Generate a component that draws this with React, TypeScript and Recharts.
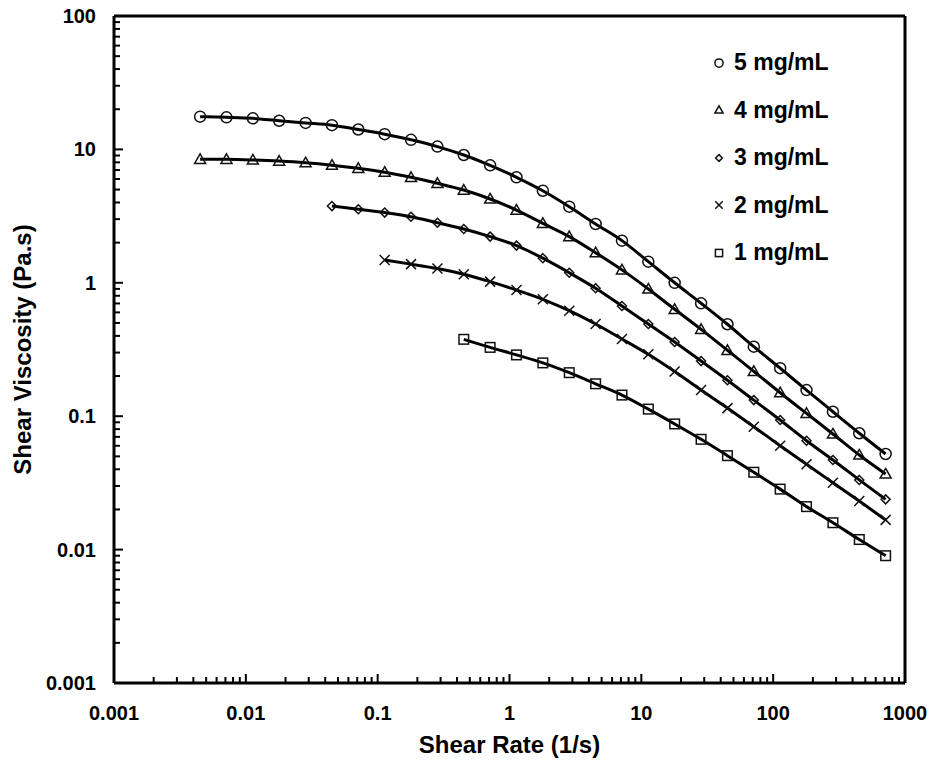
import { LineChart, Line, XAxis, YAxis, ReferenceLine, Legend } from "recharts";

document.body.style.margin = "0";

// shear rate steps (1/s), shared by all concentrations
const shearRate = [
  0.0045, 0.00713, 0.0113, 0.0179, 0.0284, 0.045, 0.0713, 0.113, 0.179, 0.284, 0.45, 0.713, 1.13, 1.79,
  2.84, 4.5, 7.13, 11.3, 17.9, 28.4, 45, 71.3, 113, 179, 284, 450, 713,
];

// viscosity (Pa.s), each series ends at the last shear rate
const visc5 = [
  17.6, 17.4, 17.1, 16.4, 15.8, 15.2, 14.1, 13.0, 11.8, 10.5, 9.08, 7.6, 6.18, 4.9, 3.72, 2.76, 2.07, 1.44,
  1.0, 0.702, 0.489, 0.332, 0.229, 0.157, 0.108, 0.0745, 0.0521,
];
const visc4 = [
  8.43, 8.42, 8.33, 8.18, 7.95, 7.62, 7.21, 6.75, 6.18, 5.57, 4.96, 4.25, 3.51, 2.79, 2.22, 1.68, 1.25,
  0.899, 0.633, 0.448, 0.312, 0.217, 0.15, 0.105, 0.0736, 0.0512, 0.0369,
];
const visc3 = [
  3.76, 3.56, 3.36, 3.13, 2.82, 2.53, 2.22, 1.9, 1.53, 1.19, 0.91, 0.67, 0.491, 0.36, 0.259, 0.186, 0.132,
  0.0937, 0.0655, 0.047, 0.0333, 0.0238,
];
const visc2 = [
  1.48, 1.38, 1.28, 1.16, 1.02, 0.883, 0.752, 0.618, 0.491, 0.379, 0.291, 0.216, 0.157, 0.115, 0.0834,
  0.0601, 0.0436, 0.0317, 0.0231, 0.0167,
];
const visc1 = [
  0.377, 0.328, 0.288, 0.251, 0.212, 0.175, 0.144, 0.113, 0.0875, 0.0671, 0.0506, 0.038, 0.0284, 0.021,
  0.0159, 0.0119, 0.009,
];

const seriesNames = ["5 mg/mL", "4 mg/mL", "3 mg/mL", "2 mg/mL", "1 mg/mL"];
const seriesShapes = ["circle", "triangle", "diamond", "cross", "square"];
const seriesValues = [visc5, visc4, visc3, visc2, visc1];

const xMajor = [0.001, 0.01, 0.1, 1, 10, 100, 1000];
const yMajor = [0.001, 0.01, 0.1, 1, 10, 100];
const minorSteps = [2, 3, 4, 5, 6, 7, 8, 9];

const withMinor = (major: number[]) => {
  const out: number[] = [];
  major.forEach((d, i) => {
    out.push(d);
    if (i < major.length - 1) minorSteps.forEach((m) => out.push(+(d * m).toPrecision(6)));
  });
  return out;
};
const xTicks = withMinor(xMajor);
const yTicks = withMinor(yMajor);

const FONT = "'Liberation Sans', Arial, sans-serif";

const seriesData = seriesValues.map((vals) => {
  const start = shearRate.length - vals.length;
  return vals.map((y, i) => ({ x: shearRate[start + i], y }));
});

function Marker({ shape, cx, cy, s = 1 }: { shape: string; cx: number; cy: number; s?: number }) {
  const st = { stroke: "#111", strokeWidth: 1.5, fill: "none" };
  if (shape === "circle") return <circle cx={cx} cy={cy} r={5.5 * s} {...st} />;
  if (shape === "triangle") {
    const h = 5.5 * s;
    return <polygon points={`${cx},${cy - h} ${cx + h},${cy + h * 0.75} ${cx - h},${cy + h * 0.75}`} {...st} />;
  }
  if (shape === "diamond") {
    const h = 4.5 * s;
    return <polygon points={`${cx},${cy - h} ${cx + h},${cy} ${cx},${cy + h} ${cx - h},${cy}`} {...st} />;
  }
  if (shape === "cross") {
    const h = 5 * s;
    return (
      <g {...st}>
        <line x1={cx - h} y1={cy - h} x2={cx + h} y2={cy + h} />
        <line x1={cx - h} y1={cy + h} x2={cx + h} y2={cy - h} />
      </g>
    );
  }
  const h = 4.8 * s;
  return <rect x={cx - h} y={cy - h} width={2 * h} height={2 * h} {...st} />;
}

const isMajor = (v: number, list: number[]) => list.some((m) => Math.abs(m - v) < m * 1e-6);

const XTick = (props: any) => {
  const { x, y, payload } = props;
  const major = isMajor(payload.value, xMajor);
  return (
    <g>
      <line x1={x} y1={y} x2={x} y2={y - (major ? 9 : 6)} stroke="#000" strokeWidth={2} />
      {major && (
        <text x={x} y={y + 30} dy="0.35em" textAnchor="middle" fontFamily={FONT} fontWeight="bold" fontSize={20} fill="#000">
          {String(payload.value)}
        </text>
      )}
    </g>
  );
};

const YTick = (props: any) => {
  const { x, y, payload } = props;
  const major = isMajor(payload.value, yMajor);
  return (
    <g>
      <line x1={x} y1={y} x2={x + (major ? 9 : 6)} y2={y} stroke="#000" strokeWidth={2} />
      {major && (
        <text x={x - 18} y={y} dy="0.35em" textAnchor="end" fontFamily={FONT} fontWeight="bold" fontSize={20} fill="#000">
          {String(payload.value)}
        </text>
      )}
    </g>
  );
};

const LegendBox = () => (
  <div style={{ fontFamily: FONT, fontWeight: "bold", fontSize: 23, color: "#000" }}>
    {seriesNames.map((n, i) => (
      <div key={n} style={{ display: "flex", alignItems: "center", height: 47.5 }}>
        <svg width={16} height={16} style={{ display: "block" }}>
          <Marker shape={seriesShapes[i]} cx={8} cy={8} s={0.75} />
        </svg>
        <span style={{ marginLeft: 7, whiteSpace: "nowrap" }}>{n}</span>
      </div>
    ))}
  </div>
);

export default function App() {
  return (
    <LineChart width={931} height={761} margin={{ top: 16, right: 26, left: 0, bottom: 0 }}>
      <XAxis
        dataKey="x"
        type="number"
        scale="log"
        domain={[0.001, 1000]}
        allowDataOverflow
        ticks={xTicks}
        interval={0}
        tickSize={0}
        tickMargin={0}
        tickLine={false}
        tick={<XTick />}
        height={78}
        axisLine={{ stroke: "#000", strokeWidth: 3 }}
        label={{
          value: "Shear Rate (1/s)",
          position: "insideBottom",
          offset: 8,
          style: { fontFamily: FONT, fontWeight: "bold", fontSize: 24, fill: "#000" },
        }}
      />
      <YAxis
        dataKey="y"
        type="number"
        scale="log"
        domain={[0.001, 100]}
        allowDataOverflow
        ticks={yTicks}
        interval={0}
        tickSize={0}
        tickMargin={0}
        tickLine={false}
        tick={<YTick />}
        width={114}
        axisLine={{ stroke: "#000", strokeWidth: 3 }}
        label={{
          value: "Shear Viscosity (Pa.s)",
          angle: -90,
          position: "insideLeft",
          offset: 22,
          style: { textAnchor: "middle", fontFamily: FONT, fontWeight: "bold", fontSize: 24, fill: "#000" },
        }}
      />
      <ReferenceLine y={100} stroke="#000" strokeWidth={3} />
      <ReferenceLine x={1000} stroke="#000" strokeWidth={3} />
      {seriesData.map((d, i) => (
        <Line
          key={seriesNames[i]}
          data={d}
          dataKey="y"
          name={seriesNames[i]}
          type="monotone"
          stroke="#000"
          strokeWidth={3}
          isAnimationActive={false}
          legendType="none"
          dot={(p: any) => <Marker key={`${i}-${p.index}`} shape={seriesShapes[i]} cx={p.cx} cy={p.cy} />}
          activeDot={false}
        />
      ))}
      <Legend
        layout="vertical"
        align="center"
        verticalAlign="middle"
        content={<LegendBox />}
        wrapperStyle={{ top: 39, left: 711, width: 180, height: 240 }}
      />
    </LineChart>
  );
}
